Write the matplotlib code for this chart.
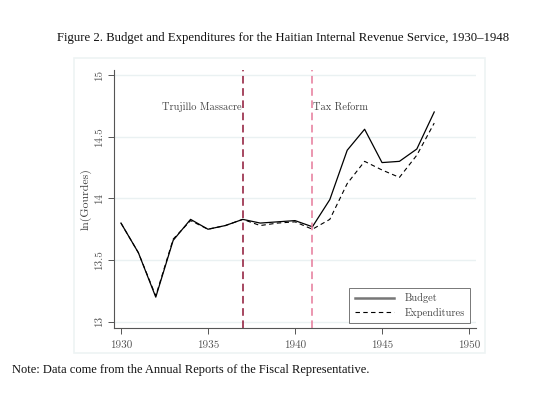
import matplotlib.pyplot as plt
from matplotlib.patches import Rectangle

years = list(range(1930, 1949))
budget = [13.80, 13.56, 13.20, 13.66, 13.83, 13.75, 13.78, 13.83, 13.80, 13.81,
          13.82, 13.77, 13.99, 14.39, 14.56, 14.29, 14.30, 14.40, 14.70]
expenditures = [13.80, 13.56, 13.21, 13.67, 13.82, 13.75, 13.78, 13.83, 13.78, 13.80,
                13.81, 13.75, 13.83, 14.12, 14.30, 14.23, 14.17, 14.35, 14.61]
events = [(1937, "Trujillo Massacre", "#8e1535"), (1941, "Tax Reform", "#e6799a")]

fig = plt.figure(figsize=(5.6, 3.98), dpi=100)

# light frame around the graph region
fig.patches.append(Rectangle((74 / 560, 1 - 353 / 398), 411 / 560, 295 / 398,
                             transform=fig.transFigure, fill=False,
                             edgecolor="#eef3f4", linewidth=1.2))

ax = fig.add_axes([114 / 560, 1 - 328 / 398, 362 / 560, 258 / 398])

ax.plot(years, budget, color="black", linewidth=0.9, label="Budget")
ax.plot(years, expenditures, color="black", linewidth=0.8, linestyle=(0, (4, 3)),
        label="Expenditures")

for yr, txt, col in events:
    ax.axvline(yr, color=col, linewidth=1.1, linestyle=(0, (5, 3)))
ax.text(1937 - 0.05, 14.74, "Trujillo Massacre", ha="right", va="center",
        family="cmr10", fontsize=7.5, color="#444444")
ax.text(1941 + 0.05, 14.74, "Tax Reform", ha="left", va="center",
        family="cmr10", fontsize=7.5, color="#444444")

ax.set_xlim(1929.6, 1950.4)
ax.set_ylim(12.95, 15.04)
ax.set_xticks([1930, 1935, 1940, 1945, 1950])
ax.set_yticks([13, 13.5, 14, 14.5, 15])
ax.set_yticklabels(["13", "13.5", "14", "14.5", "15"], rotation=90, va="center")
for lab in ax.get_xticklabels() + ax.get_yticklabels():
    lab.set_family("cmr10")
    lab.set_fontsize(8)
    lab.set_color("#555555")
ax.tick_params(length=4, width=0.7, color="#555555", pad=5)
ax.tick_params(axis="y", pad=3)
ax.grid(axis="y", color="#eaf1f2", linewidth=1.0)
ax.set_axisbelow(True)
for s in ["top", "right"]:
    ax.spines[s].set_visible(False)
for s in ["left", "bottom"]:
    ax.spines[s].set_color("#555555")
    ax.spines[s].set_linewidth(0.8)
ax.set_ylabel("ln(Gourdes)", family="cmr10", fontsize=8.5, color="#444444", labelpad=2)

leg = ax.legend(loc="lower right", bbox_to_anchor=(0.998, 0.0),
                prop={"family": "cmr10", "size": 7.5}, frameon=True, fancybox=False,
                handlelength=3.8, borderpad=0.5, labelspacing=0.4, handletextpad=1.0)
leg.get_frame().set_edgecolor("#555555")
leg.get_frame().set_linewidth(0.7)
leg.legend_handles[0].set_color("#777777")
leg.legend_handles[0].set_linewidth(1.8)
for t in leg.get_texts():
    t.set_color("#444444")

fig.text(283 / 560, 1 - 38 / 398,
         "Figure 2. Budget and Expenditures for the Haitian Internal Revenue Service, 1930\u20131948",
         ha="center", va="center", family="Liberation Serif", fontsize=9.2, color="#111111")
fig.text(12 / 560, 1 - 370 / 398,
         "Note: Data come from the Annual Reports of the Fiscal Representative.",
         ha="left", va="center", family="Liberation Serif", fontsize=9.0, color="#111111")

fig.savefig("out.png", dpi=100)
